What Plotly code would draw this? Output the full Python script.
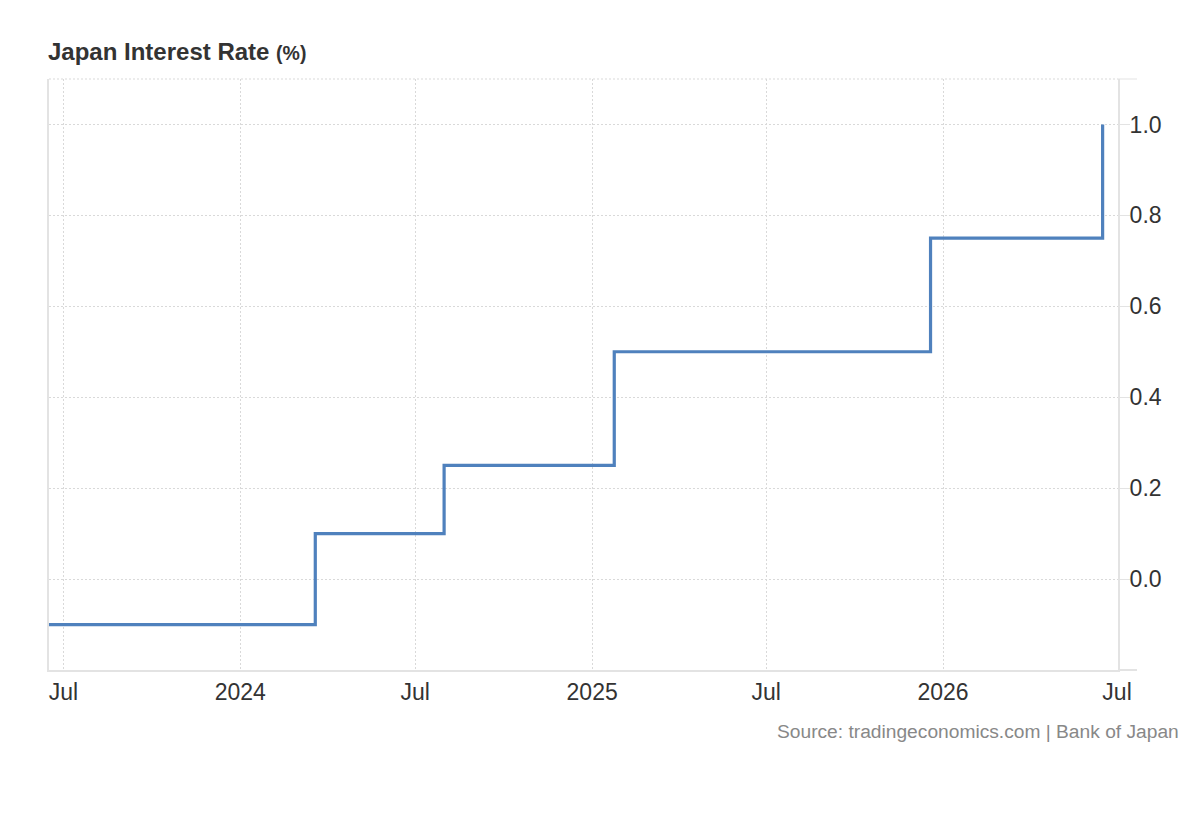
import plotly.graph_objects as go

# Data
dates = ["2023-06-16", "2024-03-19", "2024-07-31", "2025-01-24", "2025-12-19", "2026-06-16"]
rates = [-0.1, 0.1, 0.25, 0.5, 0.75, 1.0]

x_tickvals = ["2023-07-01", "2024-01-01", "2024-07-01", "2025-01-01",
              "2025-07-01", "2026-01-01", "2026-07-01"]
x_ticktext = ["Jul", "2024", "Jul", "2025", "Jul", "2026", "Jul"]
y_tickvals = [0.0, 0.2, 0.4, 0.6, 0.8, 1.0]
y_ticktext = ["0.0", "0.2", "0.4", "0.6", "0.8", "1.0"]

LINE = "#4f81bd"
GRID = "#d9d9d9"
AXIS = "#e3e3e3"
TXT = "#333333"

fig = go.Figure()
fig.add_trace(go.Scatter(
    x=dates, y=rates, mode="lines", line_shape="hv",
    line=dict(color=LINE, width=3.2), hoverinfo="skip", showlegend=False,
))

OFF = 8  # page body margin
W, H = 1200, 820
# target page coordinates of plot area
PL, PR, PT, PB = 49, 1118, 79, 670
L, T = PL - OFF, PT - OFF
R = W - (PR - OFF)
B = H - (PB - OFF)
pw = PR - PL
ph = PB - PT


def px(xpage):
    return (xpage - PL) / pw


def py(ypage):
    return (PB - ypage) / ph


fig.update_layout(
    width=W, height=H,
    margin=dict(l=L, r=R, t=T, b=B, pad=0),
    paper_bgcolor="white", plot_bgcolor="white",
    font=dict(family="Liberation Sans, Arial, sans-serif", color=TXT),
    xaxis=dict(
        type="date", range=["2023-06-16", "2026-07-02"],
        tickmode="array", tickvals=x_tickvals, ticktext=x_ticktext,
        showgrid=True, gridcolor=GRID, griddash="2px,2px", gridwidth=1,
        showline=True, linecolor=AXIS, linewidth=2,
        ticks="", tickfont=dict(size=23, color=TXT),
        zeroline=False, fixedrange=True,
    ),
    yaxis=dict(
        side="right", range=[-0.2, 1.1],
        tickmode="array", tickvals=y_tickvals, ticktext=y_ticktext,
        showgrid=True, gridcolor=GRID, griddash="2px,2px", gridwidth=1,
        showline=True, linecolor=AXIS, linewidth=2, mirror=True,
        ticks="outside", ticklen=10, tickcolor=AXIS, tickwidth=1,
        ticklabelstandoff=-5,
        tickfont=dict(size=23, color=TXT),
        zeroline=False, fixedrange=True,
    ),
    shapes=[
        # dotted top border
        dict(type="line", xref="paper", yref="paper", x0=0, x1=1, y0=1, y1=1,
             line=dict(color=GRID, width=1, dash="2px,2px")),
        # extension stubs at top and bottom beyond the right axis
        dict(type="line", xref="paper", yref="paper", x0=1, x1=px(1137), y0=1, y1=1,
             line=dict(color=AXIS, width=1)),
        dict(type="line", xref="paper", yref="paper", x0=1, x1=px(1137), y0=0, y1=0,
             line=dict(color=AXIS, width=2)),
    ],
    annotations=[
        dict(text="<b>Japan Interest Rate</b> <b><span style='font-size:19.5px'>(%)</span></b>",
             xref="paper", yref="paper", x=px(46), y=py(52),
             xanchor="left", yanchor="middle", showarrow=False,
             font=dict(size=24, color=TXT)),
        dict(text="Source: tradingeconomics.com | Bank of Japan",
             xref="paper", yref="paper", x=px(1181), y=py(731),
             xanchor="right", yanchor="middle", showarrow=False,
             font=dict(size=19.2, color="#888888")),
    ],
)

fig.write_html("out.html")
